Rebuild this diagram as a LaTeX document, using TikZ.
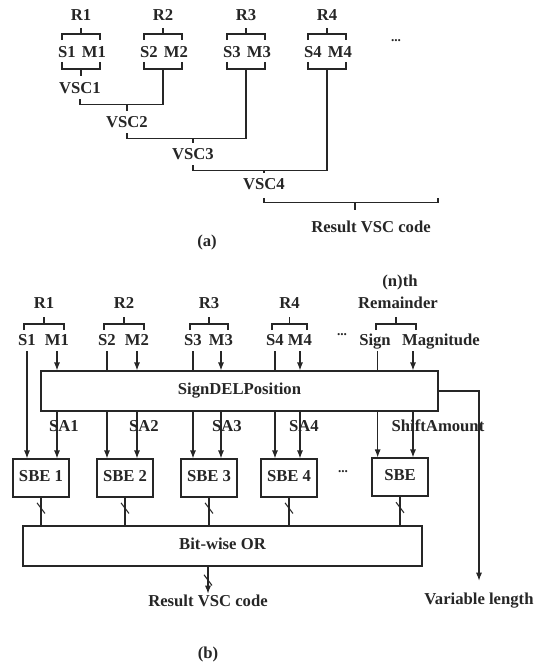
\documentclass[tikz,border=0pt]{standalone}
\usepackage{fontspec}
\setmainfont{Liberation Serif}
\usepackage{tikz}
\usetikzlibrary{positioning,calc,arrows.meta,decorations.markings}
\definecolor{ink}{HTML}{262626}
\tikzset{
  >={Latex[length=6pt,width=4.5pt]},
  every node/.style={font=\fontsize{12.5}{14}\selectfont\bfseries, text=ink,
                     inner sep=1.5pt, text height=8pt, text depth=2.5pt},
  % --- nodes
  blk/.style  = {draw=ink, line width=0.8pt, minimum width=42pt, minimum height=28.5pt},
  wide/.style = {blk, minimum height=30pt},
  dots/.style = {font=\fontsize{10}{12}\selectfont\bfseries},
  % --- edges
  wire/.style = {draw=ink, line width=0.8pt},
  e/.style    = {wire, ->},
  bus/.style  = {postaction=decorate, decoration={markings,
                 mark=at position #1 with {\draw[wire,-] (-4pt,-3pt) -- (4pt,3pt);}}},
  bus/.default = 0.5,
}

\begin{document}
\begin{tikzpicture}[x=0.75pt,y=-0.75pt]
  \useasboundingbox (0,0) rectangle (541,667);

  % ---------- (a) chained VSC
  \foreach \i/\c in {1/81,2/163,3/246,4/327} {
    \node (ar\i) at (\c,17) {R\i};
    \node (as\i) at (\c-14,54) {S\i};
    \node (am\i) at (\c+13,54) {M\i};
    \draw[wire] (\c,28) -- (\c,34);
    \draw[wire] (\c-19,40) |- (\c+19,34) -- (\c+19,40);
    \draw[wire] (\c-19,62) |- (\c+19,69) -- (\c+19,62);
    \coordinate (ab\i) at (\c,69);
  }
  \node[dots] (amore) at (396,38) {...};
  \node (vsc1) at (80,90) {VSC1};
  \node (vsc2) at (127,124) {VSC2};
  \node (vsc3) at (193,156) {VSC3};
  \node (vsc4) at (264,186) {VSC4};
  \node (resa) at (371,229) {Result VSC code};
  \node (capa) at (207,243) {(a)};

  \draw[wire] (ab1) -- ++(0,7);
  \draw[wire] (vsc1.south) -- ++(0,5) coordinate (h1) -| (ab2);
  \draw[wire] ([yshift=3pt]vsc2.north) -- (vsc2.north |- h1);
  \draw[wire] (vsc2.south) -- ++(0,5) coordinate (h2) -| (ab3);
  \draw[wire] ([yshift=3pt]vsc3.north) -- (vsc3.north |- h2);
  \draw[wire] (vsc3.south) -- ++(0,5) coordinate (h3) -| (ab4);
  \draw[wire] ([yshift=3pt]vsc4.north) -- (vsc4.north |- h3);
  \draw[wire] ([yshift=-2pt]vsc4.south) -- ++(0,5) coordinate (h4) -- ++(174,0) -- ++(0,-5);
  \draw[wire] (h4) ++(91,0) -- ++(0,7);

  % ---------- (b) parallel version
  \foreach \i/\s/\m in {1/27/57,2/107/137,3/193/221,4/275/300} {
    \node (s\i) at (\s,342) {S\i};
    \node (m\i) at (\m,342) {M\i};
    \node (r\i) at ({(\s+\m)/2+2},305) {R\i};
    \draw[wire] ({(\s+\m)/2+2},317) -- ++(0,7);
    \draw[wire] (\s-3,330) |- (\m+7,324) -- (\m+7,330);
  }
  \node (nth) at (400,283) {(n)th};
  \node (rem) at (398,305) {Remainder};
  \node (sgn) at (375,342) {Sign};
  \node (mag) at (441,342) {Magnitude};
  \draw[wire] (396,317) -- ++(0,7);
  \draw[wire] (376,330) |- (416,324) -- (416,330);
  \node[dots] (bmore) at (342,332) {...};

  \node[wide, minimum width=297.75pt] (sdp) at (239.5,391) {SignDELPosition};
  \foreach \i/\c in {1/41,2/125,3/209,4/289}
    \node[blk] (sbe\i) at (\c,478) {SBE \i};
  \node[dots] (cmore) at (343,469) {...};
  \node[blk] (sbe5) at (400,477) {SBE};
  \node[wide, minimum width=299.25pt] (bor) at (222.5,546) {Bit-wise OR};

  \foreach \i/\x in {1/64,2/144,3/227,4/304}
    \node (sa\i) at (\x,428) {SA\i};
  \node (shamt) at (438,428) {ShiftAmount};

  \draw[e] (s1.south) -- (s1.south |- sbe1.north);
  \foreach \i in {2,3,4} {
    \draw[wire] (s\i.south) -- (s\i.south |- sdp.north);
    \draw[e] (s\i.south |- sdp.south) -- (s\i.south |- sbe\i.north);
  }
  \foreach \i in {1,...,4} {
    \draw[e] (m\i.south) -- (m\i.south |- sdp.north);
    \draw[e] (m\i.south |- sdp.south) -- (m\i.south |- sbe\i.north);
  }
  \coordinate (sg) at ([xshift=2pt]sgn.south);
  \coordinate (mg) at ([xshift=-21pt]mag.south);
  \draw[wire] (sg) -- (sg |- sdp.north);
  \draw[e] (sg |- sdp.south) -- (sg |- sbe5.north);
  \draw[e] (mg) -- (mg |- sdp.north);
  \draw[e] (mg |- sdp.south) -- (mg |- sbe5.north);

  \foreach \i in {1,...,5}
    \draw[wire, bus=0.38] (sbe\i.south) -- (sbe\i.south |- bor.north);
  \node (resb) at (208,603) {Result VSC code};
  \draw[e, bus] (resb.north |- bor.south) -- (resb.north);

  \node (varl) at (479,601) {Variable length};
  \draw[e] (sdp.east) -- (varl.north |- sdp.east) -- ($(varl.north)+(0,-11)$);

  \node (capb) at (208,655) {(b)};
\end{tikzpicture}
\end{document}
